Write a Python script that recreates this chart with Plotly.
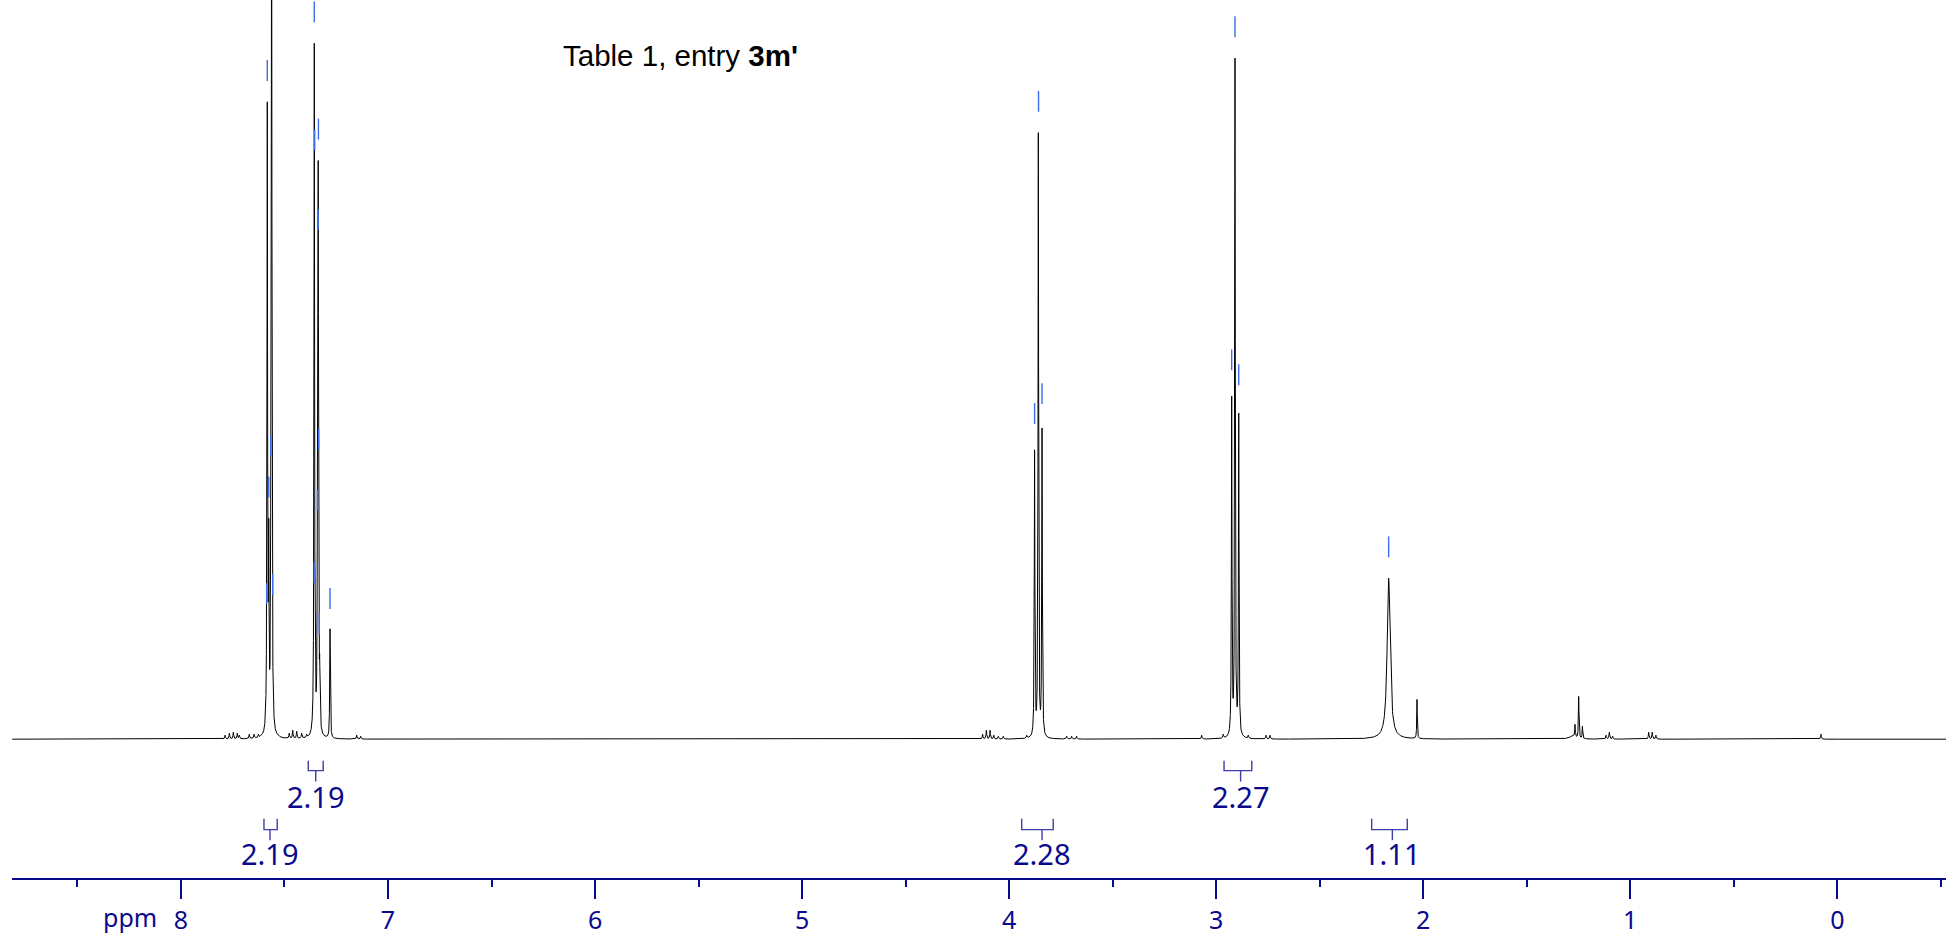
import numpy as np
import plotly.graph_objects as go

# ---------------- data ----------------
# main lines: position (ppm), observed top height (units above baseline), half width (ppm)
peak_ppm = [7.583, 7.576, 7.566, 7.562,
            7.356, 7.341, 7.337, 7.330,
            7.280,
            3.877, 3.859, 3.841,
            2.925, 2.909, 2.891,
            2.167, 2.030,
            1.267, 1.249, 1.231]
peak_height = [641, 222, 264, 950,
               700, 230, 582, 85,
               111,
               291, 610, 313,
               345, 685, 328,
               162, 40,
               15, 43, 13]
peak_hwhm = [0.00165, 0.00165, 0.00165, 0.00165,
             0.00165, 0.00165, 0.00165, 0.00165,
             0.00165,
             0.00165, 0.00165, 0.00165,
             0.00165, 0.00165, 0.00165,
             0.0085, 0.0015,
             0.0016, 0.0016, 0.0016]

# small impurity / satellite lines
minor_ppm = [7.787, 7.766, 7.747, 7.728, 7.718,
             7.670, 7.647, 7.626, 7.609,
             7.530, 7.477, 7.460, 7.441, 7.417, 7.393,
             7.151, 7.132,
             4.128, 4.110, 4.092, 4.074, 4.052, 4.028,
             3.915, 3.722, 3.698, 3.674, 3.070, 2.966,
             2.869, 2.845, 2.759, 2.740,
             1.280, 1.117, 1.101, 1.085, 0.911, 0.894, 0.876, 0.079]
minor_height = [4, 6, 7, 6, 4,
                5, 5, 5, 6,
                5, 6, 9, 8, 6, 5,
                4, 3,
                5, 9, 9, 4, 3, 3,
                4, 3, 3, 3, 4, 5,
                4, 4, 4, 4,
                3, 4, 7, 3, 7, 7, 4, 5]
minor_hwhm = [0.002] * 33 + [0.02] + [0.002] * 7

# peak-pick marks: position (ppm), height of mark's lower end
mark_ppm = [7.586, 7.583, 7.576, 7.566, 7.557,
            7.357, 7.356, 7.354, 7.341, 7.337, 7.336, 7.335, 7.332,
            7.280,
            3.877, 3.858, 3.841,
            2.925, 2.909, 2.891,
            2.167]
mark_base = [136, 662, 243, 285, 145,
             157, 721, 592, 230, 512, 603, 291, 106,
             131,
             317, 631, 337,
             371, 706, 356,
             183]
mark_len = 21

# integrals: (start ppm, end ppm, stem ppm, label, row)
integral_start = [7.385, 7.599, 2.962, 3.939, 2.249]
integral_end = [7.313, 7.535, 2.828, 3.787, 2.077]
integral_stem = [7.349, 7.570, 2.882, 3.841, 2.149]
integral_label = ["2.19", "2.19", "2.27", "2.28", "1.11"]
integral_row = [0, 1, 0, 1, 1]

tick_vals = [8, 7, 6, 5, 4, 3, 2, 1, 0]
tick_text = ["8", "7", "6", "5", "4", "3", "2", "1", "0"]
minor_vals = [8.5, 7.5, 6.5, 5.5, 4.5, 3.5, 2.5, 1.5, 0.5, -0.5]

x_left, x_right = 8.816, -0.525

# ---------------- spectrum from the peak list ----------------
all_ppm = np.array(peak_ppm + minor_ppm)
all_h = np.array(peak_height + minor_height, dtype=float)
all_w = np.array(peak_hwhm + minor_hwhm)


def lor(xx, p, w):
    return w * w / ((xx - p) ** 2 + w * w)


# amplitudes chosen so that the summed curve reaches the observed tops
M = lor(all_ppm[:, None], all_ppm[None, :], all_w[None, :])
amp = np.linalg.solve(M, all_h)
amp = np.clip(amp, 0, None)

grid = [np.arange(x_right, x_left, 0.002)]
for p, w in zip(all_ppm, all_w):
    grid.append(np.linspace(p - 40 * w, p + 40 * w, 401))
grid.append(all_ppm)
x = np.unique(np.concatenate(grid))
x = x[(x >= x_right) & (x <= x_left)]
y = np.zeros_like(x)
for p, a, w in zip(all_ppm, amp, all_w):
    y += a * lor(x, p, w)
x = x[::-1]
y = y[::-1]

NAVY = "#0a0a8c"
BRACKET = "#3e3ea6"
MARK = "#3a6cec"

fig = go.Figure()
fig.add_trace(go.Scatter(x=x, y=y, mode="lines",
                         line=dict(color="black", width=1), hoverinfo="skip"))

# marks
mx, my = [], []
for p, b in zip(mark_ppm, mark_base):
    mx += [p, p, None]
    my += [b, b + mark_len, None]
fig.add_trace(go.Scatter(x=mx, y=my, mode="lines",
                         line=dict(color=MARK, width=1.4), hoverinfo="skip"))

# integrals
row_y = [(-21.6, -31.6, -42.6, -57.6), (-79.9, -90.9, -101.6, -114.6)]
bx, by = [], []
for s, e, st, lab, r in zip(integral_start, integral_end, integral_stem,
                            integral_label, integral_row):
    top, hor, stem, ly = row_y[r]
    bx += [s, s, e, e, None, st, st, None]
    by += [top, hor, hor, top, None, hor, stem, None]
    fig.add_annotation(x=st, y=ly, xref="x", yref="y", text=lab, showarrow=False,
                       xanchor="center", yanchor="middle",
                       font=dict(family="Noto Sans", size=29, color=NAVY))
fig.add_trace(go.Scatter(x=bx, y=by, mode="lines",
                         line=dict(color=BRACKET, width=1.4), hoverinfo="skip"))

plot_h = 883

# title text
fig.add_annotation(x=6.166, y=743.4 - 56, xref="x", yref="y",
                   text="Table 1, entry <b>3m'</b>", showarrow=False,
                   xanchor="left", yanchor="middle",
                   font=dict(family="Liberation Sans", size=29.5, color="black"))

# ppm label (below the axis, paper coordinates vertically)
fig.add_annotation(x=8.106, y=(plot_h - 922) / plot_h, xref="x", yref="paper",
                   text="ppm", showarrow=False, xanchor="right", yanchor="middle",
                   font=dict(family="Noto Sans", size=25, color=NAVY))

fig.update_layout(
    width=1946, height=936,
    margin=dict(l=12, r=0, t=0, b=936 - plot_h),
    paper_bgcolor="white", plot_bgcolor="white",
    showlegend=False,
    xaxis=dict(range=[x_left, x_right], tickvals=tick_vals, ticktext=tick_text,
               ticks="outside", ticklen=19, tickwidth=1.5, tickcolor=NAVY,
               showline=True, linecolor=NAVY, linewidth=1.5,
               showgrid=False, zeroline=False,
               tickfont=dict(family="Noto Sans", size=25, color=NAVY),
               minor=dict(tickvals=minor_vals, ticks="outside", ticklen=7,
                          tickwidth=1.5, tickcolor=NAVY, showgrid=False)),
    yaxis=dict(range=[743.4 - plot_h, 743.4], visible=False,
               showgrid=False, zeroline=False),
)

fig.write_html("out.html", config={"displayModeBar": False},
               post_script="document.body.style.margin='0';document.body.style.overflow='hidden';")
